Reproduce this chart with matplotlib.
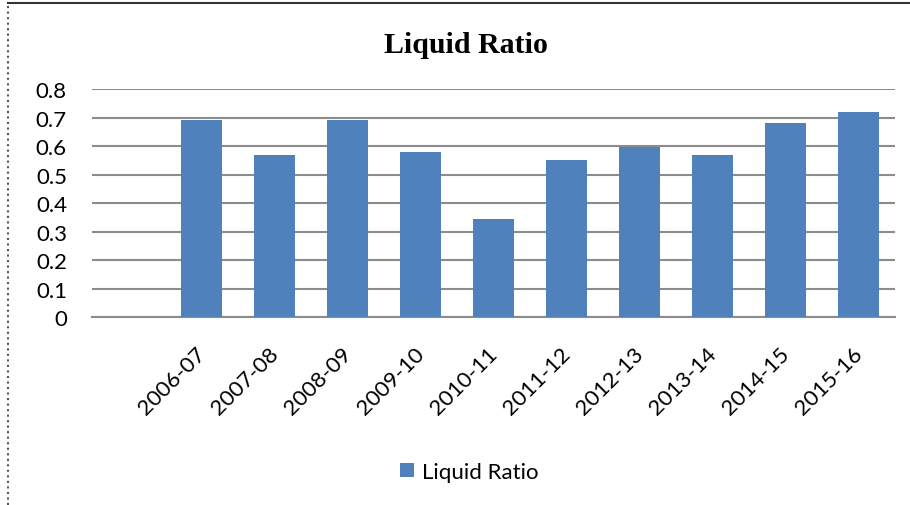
import numpy as np
import matplotlib
matplotlib.use("Agg")
import matplotlib.pyplot as plt
from matplotlib.lines import Line2D
from matplotlib.transforms import ScaledTranslation

# data
years = ["2006-07", "2007-08", "2008-09", "2009-10", "2010-11",
         "2011-12", "2012-13", "2013-14", "2014-15", "2015-16"]
liquid_ratio = [0.69, 0.57, 0.69, 0.58, 0.345, 0.55, 0.595, 0.57, 0.68, 0.72]
yticks = [0, 0.1, 0.2, 0.3, 0.4, 0.5, 0.6, 0.7, 0.8]

bar_color = "#4F81BD"
grid_color = "#8C8C8C"
tick_font = "Lato"

fig = plt.figure(figsize=(9.1, 5.06), dpi=100)
ax = fig.add_axes([0.101, 0.3715, 0.8825, 0.4505])

# first slot of the category axis is left empty, as in the original
x = np.arange(1, len(years) + 1)
ax.bar(x, liquid_ratio, width=0.56, color=bar_color, label="Liquid Ratio",
       zorder=3)

ax.set_xlim(-0.5, len(years) + 0.5)
ax.set_ylim(0, 0.8)
ax.set_yticks(yticks)
ax.set_yticklabels([("%g" % v) for v in yticks], fontsize=16,
                   family=tick_font)
ax.set_xticks(x)
ax.set_xticklabels(years, rotation=45, ha="right", va="top",
                   rotation_mode="anchor", fontsize=16, family=tick_font)
ax.tick_params(axis="both", length=0)
ax.tick_params(axis="y", pad=18)
ax.tick_params(axis="x", pad=19)

# nudge the slanted labels a little to the left
shift = ScaledTranslation(-0.06, 0, fig.dpi_scale_trans)
for lab in ax.get_xticklabels():
    lab.set_transform(lab.get_transform() + shift)

ax.yaxis.grid(True, color=grid_color, linewidth=1.5, zorder=0)
for side in ["left", "right", "top"]:
    ax.spines[side].set_visible(False)
ax.spines["bottom"].set_color(grid_color)
ax.spines["bottom"].set_linewidth(1.5)

fig.text(0.5115, 0.911, "Liquid Ratio", ha="center", va="center",
         fontsize=21.5, fontweight="bold", family="Liberation Serif")

fig.legend(loc="center", bbox_to_anchor=(0.516, 0.065), frameon=False,
           handlelength=0.6, handleheight=0.6, handletextpad=0.4,
           prop={"family": tick_font, "size": 16})

# page border around the chart
fig.add_artist(Line2D([0.009, 0.009], [0, 0.992], color="#555555",
                      linewidth=1.5, linestyle=":",
                      transform=fig.transFigure))
fig.add_artist(Line2D([0.009, 1.0], [0.992, 0.992], color="#333333",
                      linewidth=1.5, transform=fig.transFigure))

fig.savefig("out.png", dpi=100)
